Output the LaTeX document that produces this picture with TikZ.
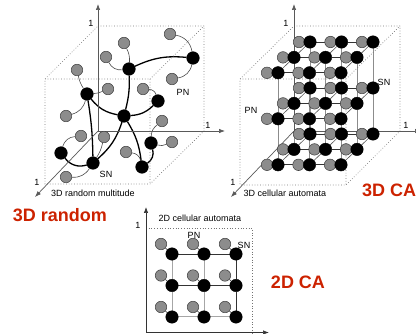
\documentclass[tikz,border=0pt]{standalone}
\usepackage{fontspec}
\setmainfont{Liberation Sans}
\usetikzlibrary{arrows.meta}
\definecolor{C0}{HTML}{8C8C8C}
\definecolor{C1}{HTML}{CC2200}
\pgfdeclarelayer{bg}
\pgfsetlayers{bg,main}

\begin{document}
\begin{tikzpicture}[x=1pt,y=-1pt,line width=0.6pt]
\useasboundingbox (0,0) rectangle (416,334);

\tikzset{
sn/.style = {circle,fill=black,draw=black,minimum size=12.5pt,inner sep=0pt},
pn/.style = {circle,fill=C0,draw=black!75,line width=0.5pt,minimum size=11.5pt,inner sep=0pt},
axisline/.style = {draw=black!65,line width=0.7pt,-{Latex[length=6pt,width=4.5pt]}},
cubeline/.style = {dotted,black!55,line width=0.7pt},
lbl/.style = {font=\fontsize{9}{10}\selectfont,inner sep=0pt},
bigtext/.style = {font=\fontsize{18}{20}\selectfont\bfseries,text=C1,inner sep=0pt},
link/.style = {black!70,line width=0.6pt},
bond/.style = {black,line width=1.3pt},
pics/cell/.style = {
code = {
\node (-g) at (-11,#1) [pn] {};
\node (-b) at (0,0) [sn] {};
}
},
pics/cell/.default = 0
}

%% 3D random
\coordinate (r_o) at (98,131);
\coordinate (r_y) at (98,4);
\coordinate (r_x) at (225,131);
\coordinate (r_z) at (35,197);
\draw[cubeline] (98,26) -- (204,26) -- (204,131) -- (150,184) -- (45,184) -- (45,79) -- cycle;
\draw[cubeline] (45,79) -- (150,79) -- (150,184) (150,79) -- (204,26);
\draw[axisline] (r_o) -- (r_y);
\draw[axisline] (r_o) -- (r_x);
\draw[axisline] (r_o) -- (r_z);
\node (r_1y) at (91,23) [lbl] {1};
\node (r_1x) at (208,125) [lbl] {1};
\node (r_1z) at (37,182) [lbl] {1};
\node (r_t) at (93,193) [lbl] {3D random multitude};
\node (r_pn) at (183,92) [lbl] {PN};
\node (r_sn) at (106,174) [lbl] {SN};

\node (rs_a) at (129,69) [sn] {};
\node (rs_b) at (193,58) [sn] {};
\node (rs_c) at (87,94) [sn] {};
\node (rs_d) at (124,116) [sn] {};
\node (rs_e) at (158,101) [sn] {};
\node (rs_f) at (151,143) [sn] {};
\node (rs_g) at (61,153) [sn] {};
\node (rs_h) at (93,163) [sn] {};
\node (rs_i) at (142,167) [sn] {};

\node (rp_a) at (170,34) [pn] {};
\node (rp_b) at (124,43) [pn] {};
\node (rp_c) at (106,57) [pn] {};
\node (rp_d) at (172,79) [pn] {};
\node (rp_e) at (77,70) [pn] {};
\node (rp_f) at (108,89) [pn] {};
\node (rp_g) at (143,89) [pn] {};
\node (rp_h) at (66,116) [pn] {};
\node (rp_i) at (162,121) [pn] {};
\node (rp_j) at (81,136) [pn] {};
\node (rp_k) at (104,137) [pn] {};
\node (rp_l) at (172,142) [pn] {};
\node (rp_m) at (126,152) [pn] {};
\node (rp_n) at (66,177) [pn] {};

\begin{pgfonlayer}{bg}
\draw[link] (rp_a) to [bend left=35] (rs_b);
\draw[link] (rp_b) to [bend left=15] (rs_a);
\draw[link] (rp_c) to [bend right=35] (rs_a);
\draw[link] (rp_d) to [bend right=35] (rs_b);
\draw[link] (rp_e) to [bend right=10] (rs_c);
\draw[link] (rp_f) to [bend left=10] (rs_c);
\draw[link] (rp_g) to [bend left=35] (rs_e);
\draw[link] (rp_h) to [bend right=30] (rs_c);
\draw[link] (rp_i) to [bend right=25] (rs_f);
\draw[link] (rp_j) to [bend right=35] (rs_g);
\draw[link] (rp_k) to [bend left=10] (rs_h);
\draw[link] (rp_l) to [bend left=20] (rs_f);
\draw[link] (rp_m) to [bend left=35] (rs_i);
\draw[link] (rp_n) to [bend right=30] (rs_h);

\draw[bond] (rs_a) to [bend left=15] (rs_b);
\draw[bond] (rs_a) to [bend left=8] (rs_d);
\draw[bond] (rs_c) to [bend right=20] (rs_d);
\draw[bond] (rs_d) to [bend right=20] (rs_e);
\draw[bond] (rs_c) to [bend left=4] (rs_h);
\draw[bond] (rs_d) to [bend left=15] (rs_h);
\draw[bond] (rs_d) to [bend left=12] (rs_i);
\draw[bond] (rs_g) to [bend right=35] (rs_h);
\draw[bond] (rs_f) to [bend left=35] (rs_i);
\end{pgfonlayer}

%% 3D CA
\coordinate (c_o) at (294,131);
\coordinate (c_y) at (294,4);
\coordinate (c_x) at (421,131);
\coordinate (c_z) at (231,197);
\draw[cubeline] (294,26) -- (400,26) -- (400,131) -- (346,185) -- (240,185) -- (240,79) -- cycle;
\draw[cubeline] (240,79) -- (346,79) -- (346,185) (346,79) -- (400,26);
\draw[axisline] (c_o) -- (c_y);
\draw[axisline] (c_o) -- (c_x);
\draw[axisline] (c_o) -- (c_z);
\node (c_1y) at (286,23) [lbl] {1};
\node (c_1x) at (406,125) [lbl] {1};
\node (c_1z) at (233,182) [lbl] {1};
\node (c_t) at (285,193) [lbl] {3D cellular automata};
\node (c_pn) at (251,110) [lbl] {PN};
\node (c_sn) at (384,82) [lbl] {SN};

\foreach \d in {0,1,2}
\foreach \r in {0,1,2}
\foreach \c in {0,1,2}
\pic (c\c\r\d) at ({310+31.5*\c-16*\d},{42+46*\r+15.4*\d}) {cell};

\begin{pgfonlayer}{bg}
\foreach \d in {0,1,2}
\foreach \r in {0,1,2}
\draw[link,black!80] (c0\r\d-b) -- (c1\r\d-b) -- (c2\r\d-b);
\foreach \d in {0,1,2}
\foreach \c in {0,1,2}
\draw[link,black!45] (c\c0\d-b) -- (c\c1\d-b) -- (c\c2\d-b);
\foreach \c in {0,1,2}
\foreach \r in {0,1,2}
\draw[link,black!65] (c\c\r0-b) -- (c\c\r1-b) -- (c\c\r2-b);
\end{pgfonlayer}

%% 2D CA
\coordinate (q_o) at (146,332.5);
\coordinate (q_y) at (146,207);
\coordinate (q_x) at (269,332.5);
\draw[cubeline] (146,228) -- (252,228) -- (252,334);
\draw[axisline,black!80] (q_o) -- (q_y);
\draw[axisline,black!80] (q_o) -- (q_x);
\node (q_1y) at (138,225) [lbl] {1};
\node (q_t) at (200,218) [lbl] {2D cellular automata};
\node (q_pn) at (194,235) [lbl] {PN};
\node (q_sn) at (244,245) [lbl] {SN};

\foreach \r in {0,1,2}
\foreach \c in {0,1,2}
\pic (q\c\r) at ({172+32*\c},{254+31.5*\r}) {cell=-10};

\begin{pgfonlayer}{bg}
\foreach \r in {0,1,2}
\foreach \c in {0,1,2}
\draw[link,black!80] (q\c\r-g) -- (q\c\r-b);
\draw[link,black!80] (q00-b) -- (q10-b) -- (q20-b);
\draw[link,black!80] (q01-b) -- (q11-b) -- (q21-b);
\draw[link,black!35,line width=1pt] (q02-b) -- (q12-b) -- (q22-b);
\draw[link,black!35,line width=1pt] (q00-b) -- (q01-b) -- (q02-b);
\draw[link,black!35,line width=1pt] (q10-b) -- (q11-b) -- (q12-b);
\draw[link,black!80] (q20-b) -- (q21-b) -- (q22-b);
\end{pgfonlayer}

\node (t_random) at (60,215) [bigtext] {3D random};
\node (t_ca3) at (362,190) [bigtext,anchor=west] {3D CA};
\node (t_ca2) at (298,282) [bigtext] {2D CA};

\end{tikzpicture}
\end{document}
